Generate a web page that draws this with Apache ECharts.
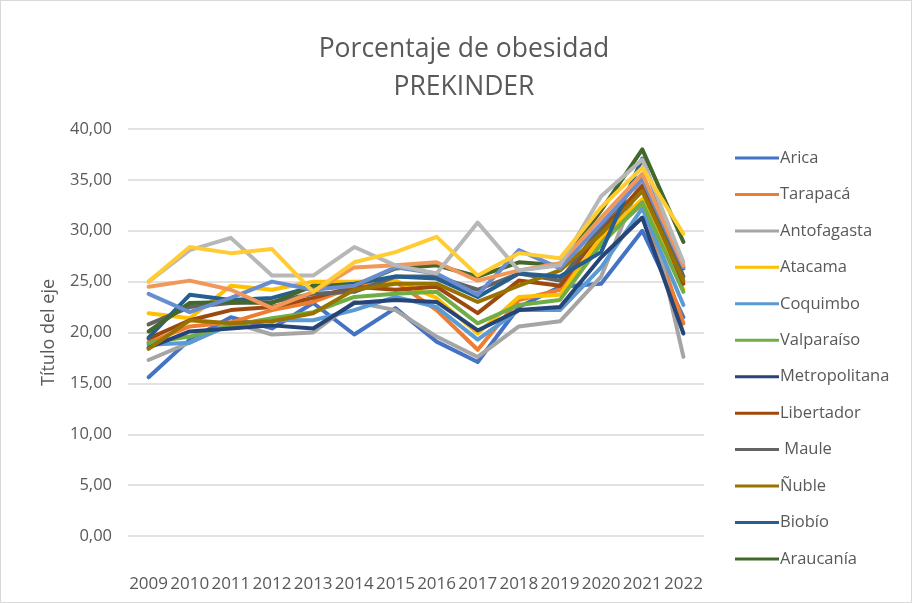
<!DOCTYPE html>
<html><head><meta charset="utf-8">
<script src="https://cdn.jsdelivr.net/npm/echarts@6/dist/echarts.min.js"></script>
<style>html,body{margin:0;padding:0;background:#fff}#c{width:912px;height:603px;box-sizing:border-box;border:1px solid #d9d9d9}</style>
</head><body><div id="c"></div>
<script>
const years = ['2009','2010','2011','2012','2013','2014','2015','2016','2017','2018','2019','2020','2021','2022'];
const arica        = [15.6,19.3,21.5,20.4,22.9,19.8,22.4,19.1,17.1,22.5,24.5,24.8,30.0,21.5];
const tarapaca     = [19.0,20.6,21.0,22.2,23.0,24.5,25.0,22.2,18.3,23.2,24.2,29.0,32.6,20.9];
const antofagasta  = [17.3,19.0,21.0,19.8,20.0,23.0,22.2,19.6,17.6,20.6,21.1,25.5,35.3,17.6];
const atacama      = [21.9,21.4,24.6,24.2,25.0,25.0,25.1,23.4,19.9,23.5,23.7,29.4,33.1,24.2];
const coquimbo     = [18.8,19.0,20.8,21.2,21.2,22.2,23.5,22.5,19.3,22.2,22.2,26.4,32.2,22.7];
const valparaiso   = [19.0,19.6,20.7,21.4,22.0,23.5,23.8,24.0,20.9,22.7,23.2,28.7,32.8,24.0];
const metropolitana= [18.5,20.1,20.4,20.7,20.4,22.9,23.2,23.0,20.2,22.2,22.5,27.4,31.3,19.9];
const libertador   = [19.4,21.2,22.2,22.5,23.4,24.5,24.2,24.5,21.9,25.1,24.6,30.0,34.4,24.8];
const maule        = [20.8,22.5,22.9,23.0,23.8,24.0,25.5,25.5,24.2,25.8,25.1,30.4,35.3,25.5];
const nuble        = [18.4,21.2,20.9,21.1,21.9,24.2,24.8,24.8,23.0,24.6,26.1,29.7,33.9,25.1];
const biobio       = [19.5,23.7,23.2,23.4,24.5,24.8,25.5,25.3,23.5,25.8,25.5,27.9,37.1,26.3];
const araucania    = [20.1,22.9,23.0,22.9,24.6,24.6,26.3,26.6,25.5,26.9,26.6,32.0,38.0,28.9];
const losRios      = [23.8,22.0,23.4,25.0,24.2,24.6,26.4,25.8,23.7,28.1,26.3,30.7,35.1,26.4];
const losLagos     = [24.5,25.1,24.2,22.4,24.0,26.4,26.6,26.9,25.1,26.1,26.8,31.3,35.6,26.6];
const aysen        = [25.0,28.1,29.3,25.6,25.6,28.4,26.6,25.8,30.8,26.1,26.6,33.4,37.0,26.9];
const magallanes   = [25.0,28.4,27.8,28.2,24.0,26.9,27.9,29.4,25.6,27.8,27.3,32.3,36.2,29.7];
const yTicks = ['0,00','5,00','10,00','15,00','20,00','25,00','30,00','35,00','40,00'];

const seriesDefs = [
  ['Arica', arica, '#4472C4'],
  ['Tarapacá', tarapaca, '#ED7D31'],
  ['Antofagasta', antofagasta, '#A5A5A5'],
  ['Atacama', atacama, '#FFC000'],
  ['Coquimbo', coquimbo, '#5B9BD5'],
  ['Valparaíso', valparaiso, '#70AD47'],
  ['Metropolitana', metropolitana, '#264478'],
  ['Libertador', libertador, '#9E480E'],
  [' Maule', maule, '#636363'],
  ['Ñuble', nuble, '#997300'],
  ['Biobío', biobio, '#255E91'],
  ['Araucanía', araucania, '#43682B'],
  ['Los Ríos', losRios, '#698ED0'],
  ['Los Lagos', losLagos, '#F1975A'],
  ['Aysén', aysen, '#B7B7B7'],
  ['Magallanes', magallanes, '#FFCD33']
];
const font = 'Open Sans';
const chart = echarts.init(document.getElementById('c'));
chart.setOption({
  animation: false,
  title: {
    text: 'Porcentaje de obesidad\nPREKINDER',
    left: 458, top: 24, textAlign: 'center',
    textStyle: {fontFamily: font, fontSize: 26.5, fontWeight: 'normal', color: '#595959', lineHeight: 38}
  },
  legend: {
    data: seriesDefs.slice(0, 12).map(s => s[0]),
    orient: 'vertical', left: 729, top: 142, itemGap: 16.45, itemWidth: 44, itemHeight: 20,
    icon: 'path://M0,8.5 L44,8.5 L44,11.5 L0,11.5 Z',
    textStyle: {fontFamily: font, fontSize: 16.5, color: '#595959', padding: [0,0,0,-4], lineHeight: 20, height: 20}
  },
  grid: {left: 127, right: 207, top: 128, bottom: 66},
  xAxis: {
    type: 'category', data: years, boundaryGap: true,
    axisLine: {show: false}, axisTick: {show: false},
    axisLabel: {fontFamily: font, fontSize: 17, color: '#595959', margin: 40, interval: 0}
  },
  yAxis: {
    type: 'value', min: 0, max: 40, interval: 5,
    name: 'Título del eje', nameLocation: 'middle', nameGap: 70, nameRotate: 90,
    nameTextStyle: {fontFamily: font, fontSize: 18, color: '#595959'},
    axisLine: {show: false}, axisTick: {show: false},
    axisLabel: {fontFamily: font, fontSize: 16.5, color: '#595959', margin: 16,
      formatter: v => yTicks[Math.round(v / 5)]},
    splitLine: {lineStyle: {color: '#D9D9D9', width: 1.5}}
  },
  series: seriesDefs.map(s => ({
    name: s[0], type: 'line', data: s[1], symbol: 'none',
    lineStyle: {width: 4, color: s[2], cap: 'round', join: 'round'},
    itemStyle: {color: s[2]}
  }))
});
</script></body></html>
